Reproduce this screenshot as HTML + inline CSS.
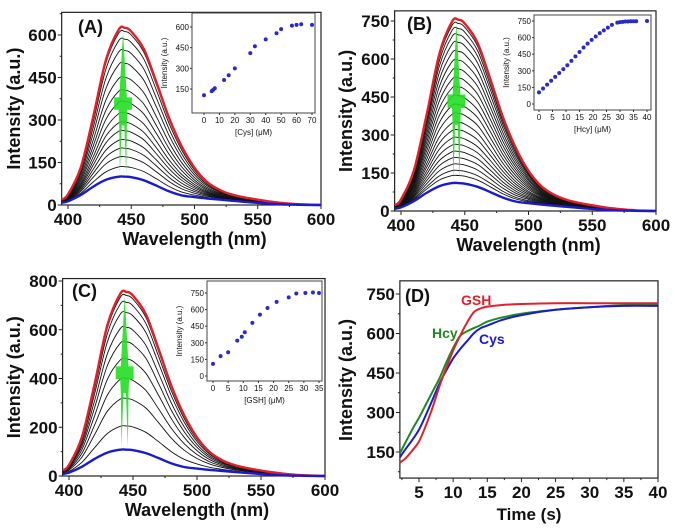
<!DOCTYPE html>
<html><head><meta charset="utf-8"><style>
html,body{margin:0;padding:0;background:#fff;}
svg{display:block;font-family:"Liberation Sans",Arial,sans-serif;}
</style></head><body>
<svg id="fig" width="675" height="532" viewBox="0 0 675 532" xmlns="http://www.w3.org/2000/svg"></svg>
<script>
// ---------- data ----------
const wavelengths=[395,400,410,420,430,440,445,450,460,470,480,490,500,510,520,530,540,550,560,570,580,590,600];
const redShape=[0.03,0.06,0.21,0.5,0.82,0.99,1,0.98,0.88,0.69,0.49,0.33,0.21,0.13,0.085,0.058,0.042,0.03,0.019,0.011,0.005,0.002,0];
const blueShape=[0.08,0.13,0.35,0.65,0.89,1,1,0.98,0.87,0.68,0.48,0.34,0.28,0.23,0.19,0.15,0.11,0.075,0.045,0.022,0.01,0.003,0];
const aRed=625, aBlue=100;
const aBlack=[135,170,200,230,262,292,325,365,405,450,500,545,585,612];
const bRed=755, bBlue=110;
const bBlack=[140,160,185,210,235,262,290,320,350,385,420,455,490,525,560,595,630,665,695,720,740];
const cRed=755, cBlue=108;
const cBlack=[205,318,400,480,550,610,670,712,740];
const insetAx=[0,5,6,7,13,16,20,30,33,40,47,50,57,60,63,70];
const insetAy=[105,135,145,155,215,250,300,410,460,510,555,585,610,615,620,615];
const insetBx=[0,1.5,3,4.5,6,7.5,9,10.5,12,13.5,15,16.5,18,19.5,21,22.5,24,25.5,27,29,30,31,32,33,34,35,36,40];
const insetBy=[105,140,175,210,245,280,315,350,390,430,470,510,545,580,610,640,665,690,715,735,740,742,745,745,748,748,748,750];
const insetCx=[0,2.5,5,8,9.5,10.5,13,15.5,18,21,25,27.5,30.5,33,35];
const insetCy=[110,180,215,320,355,395,480,555,615,670,710,745,750,755,750];
const timeT=[2.2,3,4,5,6,7,8,9,10,11,12,13,14,15,17,20,25,30,35,40];
const gshY=[110,125,155,190,250,320,400,470,535,590,640,680,695,702,708,712,715,715,715,715];
const hcyY=[145,185,235,280,330,380,430,490,545,590,608,620,632,645,660,675,690,700,708,712];
const cysY=[130,160,195,235,290,350,410,460,505,540,570,600,620,630,650,670,690,700,705,705];

const NS="http://www.w3.org/2000/svg";
const svg=document.getElementById('fig');
function el(tag,attrs,parent,text){const e=document.createElementNS(NS,tag);for(const k in attrs)e.setAttribute(k,attrs[k]);if(text!==undefined)e.textContent=text;(parent||svg).appendChild(e);return e;}
function lin(d0,d1,p0,p1){return v=>p0+(v-d0)*(p1-p0)/(d1-d0);}

function axes(g,x,y,x0,x1,y0,y1,xt,yt,xminor,yminor,fs,tick,box){
  const r=el('rect',{x:x(x0),y:y(y1),width:x(x1)-x(x0),height:y(y0)-y(y1),fill:'none',stroke:'#222','stroke-width':box},g);
  
  xt.forEach(v=>{el('line',{x1:x(v),x2:x(v),y1:y(y0),y2:y(y0)+tick,stroke:'#222','stroke-width':1},g);
    const t=el('text',{x:x(v),y:y(y0)+tick+fs*0.95,'font-size':fs,'font-weight':'bold','text-anchor':'middle',fill:'#111'},g,v);
    });
  xminor.forEach(v=>el('line',{x1:x(v),x2:x(v),y1:y(y0),y2:y(y0)+tick/2,stroke:'#222','stroke-width':1},g));
  yt.forEach(v=>{el('line',{x1:x(x0)-tick,x2:x(x0),y1:y(v),y2:y(v),stroke:'#222','stroke-width':1},g);
    const t=el('text',{x:x(x0)-tick-1,y:y(v)+fs*0.36,'font-size':fs,'font-weight':'bold','text-anchor':'end',fill:'#111'},g,v);
    });
  yminor.forEach(v=>el('line',{x1:x(x0)-tick/2,x2:x(x0),y1:y(v),y2:y(v),stroke:'#222','stroke-width':1},g));
}
function path(g,xs,ys,x,y,color,w,name){
  const P=xs.map((v,i)=>[x(v),y(ys[i])]);
  let d='M'+P[0][0].toFixed(1)+','+P[0][1].toFixed(1);
  for(let i=0;i<P.length-1;i++){
    const p0=P[Math.max(0,i-1)],p1=P[i],p2=P[i+1],p3=P[Math.min(P.length-1,i+2)];
    const c1=[p1[0]+(p2[0]-p0[0])/6,p1[1]+(p2[1]-p0[1])/6];
    const c2=[p2[0]-(p3[0]-p1[0])/6,p2[1]-(p3[1]-p1[1])/6];
    d+=`C${c1[0].toFixed(1)},${c1[1].toFixed(1)} ${c2[0].toFixed(1)},${c2[1].toFixed(1)} ${p2[0].toFixed(1)},${p2[1].toFixed(1)}`;
  }
  const p=el('path',{d:d,fill:'none',stroke:color,'stroke-width':w,'stroke-linejoin':'round'},g);
  return p;
}
function range(a,b,s){const r=[];for(let v=a;v<=b+1e-9;v+=s)r.push(v);return r;}

function spectraPanel(o){
  const g=el('g',{},svg);
  const x=lin(400,600,o.px0,o.px1), y=lin(0,o.yv,o.py0,o.py1);
  const y1v=o.ymaxv;
  axes(g,x,y,395,600,0,y1v,[400,450,500,550,600],o.yt,range(425,575,50),o.ym,17,4,1.2);
  const blue=blueShape.map(s=>s*o.blue), red=redShape.map(s=>s*o.red);
  o.black.forEach(pk=>{const f=(pk-o.blue)/(o.red-o.blue);
    path(g,wavelengths,blue.map((b,i)=>b+f*(red[i]-b)),x,y,'#111',0.9,'spectrum-curve');});
  path(g,wavelengths,red,x,y,'#e0202a',2.4,'spectrum-final-red');
  path(g,wavelengths,blue,x,y,'#1a1ad0',2.4,'spectrum-initial-blue');
  // green arrow
  const ax=x(443.5), w=s=>s*(x(401)-x(400));
  const ytip=y(o.red-15), yh1=y(o.headv), yh2=y(o.headv-o.red*0.07), ysp=y(o.red*0.45), ybot=y(o.blue+10);
  const a=el('path',{d:`M${ax},${ytip} L${ax+w(3)},${yh1} L${ax+w(7)},${yh1} L${ax+w(7)},${yh2} L${ax+w(3.5)},${yh2} L${ax+w(3)},${ysp} L${ax+w(2.5)},${ybot} L${ax+w(1)},${ysp} L${ax-w(1)},${ysp} L${ax-w(2.5)},${ybot} L${ax-w(3)},${ysp} L${ax-w(3.5)},${yh2} L${ax-w(7)},${yh2} L${ax-w(7)},${yh1} L${ax-w(3)},${yh1} Z`,fill:'#22dd22',opacity:0.9},g);
  
  const l=el('text',{x:o.lx,y:o.ly,'font-size':18,'font-weight':'bold',fill:'#111'},g,o.label);
  
  const xt=el('text',{x:(o.px0+o.px1)/2,y:o.py0+40,'font-size':18,'font-weight':'bold','text-anchor':'middle',fill:'#111'},g,'Wavelength (nm)');
  
  const yc=(o.py0+y(y1v))/2;
  const yl=el('text',{x:o.ytx,y:yc,'font-size':18,'font-weight':'bold','text-anchor':'middle',fill:'#111',transform:`rotate(-90 ${o.ytx} ${yc})`},g,'Intensity (a.u.)');
  
  // inset
  const ig=el('g',{},g);
  const ix=lin(0,o.ixmax,o.ix0,o.ix1), iy=lin(o.iyv0,o.iyv1,o.iy0,o.iy1);
  el('rect',{x:o.bx0,y:o.by0,width:o.bx1-o.bx0,height:o.by1-o.by0,fill:'#fff',stroke:'#444','stroke-width':1},ig);
  o.ixt.forEach(v=>{el('line',{x1:ix(v),x2:ix(v),y1:o.by1,y2:o.by1+2,stroke:'#333'},ig);
    const t=el('text',{x:ix(v),y:o.by1+10,'font-size':8,'text-anchor':'middle',fill:'#111'},ig,v);});
  o.iyt.forEach(v=>{el('line',{x1:o.bx0-2,x2:o.bx0,y1:iy(v),y2:iy(v),stroke:'#333'},ig);
    const t=el('text',{x:o.bx0-3,y:iy(v)+3,'font-size':8,'text-anchor':'end',fill:'#111'},ig,v);});
  o.ixs.forEach((v,i)=>{const c=el('circle',{cx:ix(v),cy:iy(o.iys[i]),r:2,fill:'#2a2ac8'},ig);});
  const it=el('text',{x:(o.bx0+o.bx1)/2,y:o.by1+22,'font-size':8,'text-anchor':'middle',fill:'#111'},ig,o.ixlabel);
  
  const iyc=(o.by0+o.by1)/2, iyx=o.bx0-25;
  const iyl=el('text',{x:iyx,y:iyc,'font-size':8,'text-anchor':'middle',fill:'#111',transform:`rotate(-90 ${iyx} ${iyc})`},ig,'Intensity (a.u.)');
  
}

spectraPanel({name:'panel-a',label:'(A)',lx:78,ly:33,px0:68,px1:321,py0:205,py1:35,yv:600,ymaxv:680,yt:[0,150,300,450,600],ym:range(75,675,150),
  red:aRed,blue:aBlue,black:aBlack,headv:380,ytx:20,
  bx0:192,bx1:315,by0:13,by1:113,ix0:204,ix1:312,ixmax:70,iyv0:150,iyv1:600,iy0:89,iy1:27,
  ixt:[0,10,20,30,40,50,60,70],iyt:[150,300,450,600],ixs:insetAx,iys:insetAy,ixlabel:'[Cys] (μM)'});
spectraPanel({name:'panel-b',label:'(B)',lx:407,ly:30,px0:401,px1:656,py0:211,py1:21,yv:750,ymaxv:790,yt:[0,150,300,450,600,750],ym:range(75,675,150),
  red:bRed,blue:bBlue,black:bBlack,headv:460,ytx:352,
  bx0:534,bx1:651,by0:15,by1:110,ix0:539,ix1:647,ixmax:40,iyv0:0,iyv1:750,iy0:104,iy1:21,
  ixt:[0,5,10,15,20,25,30,35,40],iyt:[0,150,300,450,600,750],ixs:insetBx,iys:insetBy,ixlabel:'[Hcy] (μM)'});
spectraPanel({name:'panel-c',label:'(C)',lx:72,ly:297,px0:69,px1:325,py0:476,py1:281,yv:800,ymaxv:810,yt:[0,200,400,600,800],ym:range(100,700,200),
  red:cRed,blue:cBlue,black:cBlack,headv:450,ytx:20,
  bx0:207,bx1:322,by0:281,by1:381,ix0:213,ix1:319,ixmax:35,iyv0:0,iyv1:750,iy0:376,iy1:293,
  ixt:[0,5,10,15,20,25,30,35],iyt:[0,150,300,450,600,750],ixs:insetCx,iys:insetCy,ixlabel:'[GSH] (μM)'});

// panel D
(function(){
  const g=el('g',{},svg);
  const x=lin(5,40,419,658), y=lin(150,750,452,294);
  axes(g,x,y,2.2,40,51,800,[5,10,15,20,25,30,35,40],[150,300,450,600,750],range(2.5,37.5,5),[75,225,375,525,675],17,4,1.2);
  path(g,timeT,hcyY,x,y,'#1e8a1e',2,'hcy-line');
  path(g,timeT,cysY,x,y,'#1a1ad0',2,'cys-line');
  path(g,timeT,gshY,x,y,'#e0202a',2,'gsh-line');
  const lbl=(t,xx,yy,c,n)=>{const e=el('text',{x:xx,y:yy,'font-size':14,'font-weight':'bold',fill:c},g,t);};
  lbl('GSH',461,305,'#e0202a','gsh-label');lbl('Hcy',432,338,'#1e8a1e','hcy-label');lbl('Cys',479,344,'#1a1ad0','cys-label');
  const l=el('text',{x:405,y:302,'font-size':18,'font-weight':'bold',fill:'#111'},g,'(D)');
  const xt=el('text',{x:529,y:520,'font-size':17,'font-weight':'bold','text-anchor':'middle',fill:'#111'},g,'Time (s)');
  
  const yl=el('text',{x:352,y:380,'font-size':18,'font-weight':'bold','text-anchor':'middle',fill:'#111',transform:'rotate(-90 352 380)'},g,'Intensity (a.u.)');
  
})();
</script>
</body></html>
